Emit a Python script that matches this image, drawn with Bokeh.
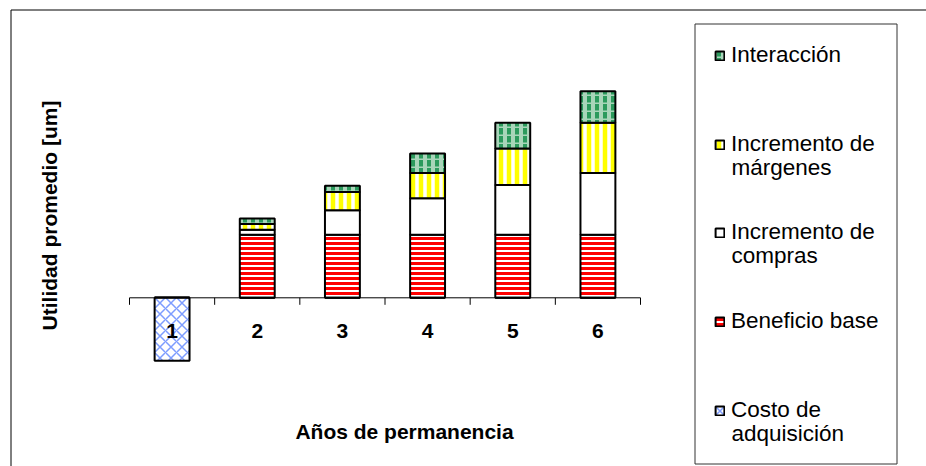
import math

from bokeh.plotting import figure
from bokeh.models import (ColumnDataSource, Range1d, Legend, LegendItem, Label,
                          BoxAnnotation)
from bokeh.embed import file_html
from bokeh.resources import INLINE

# Años de permanencia del cliente y la utilidad promedio de cada componente [um]
years = ["1", "2", "3", "4", "5", "6"]
costo_adquisicion = [-100, 0, 0, 0, 0, 0]
beneficio_base = [0, 100, 100, 100, 100, 100]
incremento_compras = [0, 8, 39, 58, 79, 98]
incremento_margenes = [0, 9, 29, 40, 58, 80]
interaccion = [0, 9, 10, 31, 41, 50]

FONT = "Liberation Sans"
W, H = 926, 466

# The drawing area fills the whole canvas; the category axis spans
# canvas x = 129..640 and crosses the value axis at canvas y = 297.3.
AX_LEFT, AX_RIGHT, AX_Y = 129.0, 640.0, 297.3
PX_PER_UNIT = 0.63                      # vertical scale, pixels per um

xs = list(range(1, len(years) + 1))
x_lo, x_hi = xs[0] - 0.5, xs[-1] + 0.5
px_per_cat = (AX_RIGHT - AX_LEFT) / (x_hi - x_lo)
x_range = Range1d(x_lo - AX_LEFT / px_per_cat, x_hi + (W - AX_RIGHT) / px_per_cat)
y_range = Range1d(-(H - AX_Y) / PX_PER_UNIT, AX_Y / PX_PER_UNIT)

src = ColumnDataSource(dict(
    x=xs,
    costo=costo_adquisicion,
    base=beneficio_base,
    compras=incremento_compras,
    margenes=incremento_margenes,
    inter=interaccion,
))

p = figure(width=W, height=H, output_backend="svg", toolbar_location=None,
           x_range=x_range, y_range=y_range,
           x_axis_location=None, y_axis_location=None,
           min_border=0)
p.outline_line_color = None
p.grid.visible = False
p.background_fill_color = "white"
p.border_fill_color = "white"

BAR_W = 0.41
common = dict(line_color="black", line_width=2)

stack = p.vbar_stack(
    ["base", "compras", "margenes", "inter"], x="x", width=BAR_W, source=src,
    fill_color=["white", "white", "white", "#a8d5b9"],
    hatch_pattern=["horizontal_line", "blank", "vertical_line", "vertical_dash"],
    hatch_color=["#ff0000", "white", "#ffff00", "#2b9a5c"],
    hatch_scale=[5, 8, 8, 8],
    hatch_weight=[3, 1, 4.5, 4],
    **common)
r_base, r_compras, r_margenes, r_inter = stack

r_costo = p.vbar(x="x", top="costo", bottom=0, width=BAR_W, source=src,
                 fill_color="white", hatch_pattern="diagonal_cross",
                 hatch_color="#7d9cff", hatch_scale=11, hatch_weight=1.5,
                 **common)

# category axis crossing at zero: rule, tick marks between categories, labels
TICK_PX = 7
bounds = [x - 0.5 for x in xs] + [x_hi]
p.segment(x0=[x_lo], y0=[0], x1=[x_hi], y1=[0], line_color="black", line_width=1)
p.segment(x0=bounds, y0=[0] * len(bounds), x1=bounds,
          y1=[-TICK_PX / PX_PER_UNIT] * len(bounds),
          line_color="black", line_width=1)
p.text(x=xs, y=[0] * len(xs), text=years, y_offset=33,
       text_align="center", text_baseline="middle",
       text_font={"value": FONT}, text_font_style="bold",
       text_font_size="21px", text_color="black")


def sx(v):
    return v


def sy(v):
    return H - v


# axis titles
p.add_layout(Label(x=sx(49), y=sy(215), x_units="screen", y_units="screen",
                   text="Utilidad promedio [um]", angle=math.pi / 2,
                   text_align="center", text_baseline="middle",
                   text_font=FONT, text_font_style="bold", text_font_size="21px",
                   text_color="black"))
p.add_layout(Label(x=sx(404), y=sy(431), x_units="screen", y_units="screen",
                   text="Años de permanencia",
                   text_align="center", text_baseline="middle",
                   text_font=FONT, text_font_style="bold", text_font_size="21px",
                   text_color="black"))

# chart-area frame and legend box
box_style = dict(left_units="screen", right_units="screen",
                 top_units="screen", bottom_units="screen",
                 fill_alpha=0, line_alpha=1, line_width=1)
p.add_layout(BoxAnnotation(left=sx(10.5), right=sx(1500), top=sy(9.5), bottom=sy(900),
                           line_color="black", **box_style))
p.add_layout(BoxAnnotation(left=sx(694.5), right=sx(896.5), top=sy(23.5), bottom=sy(463.5),
                           line_color="#333333", **box_style))

# legend entries: (renderer, first line, second line, centre of first line)
entries = [
    (r_inter, "Interacción", None, 55),
    (r_margenes, "Incremento de", "márgenes", 144),
    (r_compras, "Incremento de", "compras", 232),
    (r_base, "Beneficio base", None, 321),
    (r_costo, "Costo de", "adquisición", 410),
]
ITEM_H = 26
LINE_STEP = 23
LEG_FONT = "22.5px"
for rend, line1, line2, cy in entries:
    leg = Legend(items=[LegendItem(label=line1, renderers=[rend])],
                 location=(sx(714), sy(cy + ITEM_H / 2)),
                 border_line_color=None, background_fill_alpha=0,
                 padding=0, margin=0, spacing=0,
                 glyph_width=11, glyph_height=11, label_standoff=6,
                 label_height=ITEM_H,
                 label_text_font=FONT, label_text_font_size=LEG_FONT,
                 label_text_color="black")
    p.add_layout(leg)
    if line2:
        p.add_layout(Label(x=sx(731), y=sy(cy + LINE_STEP), x_units="screen", y_units="screen",
                           text=line2, text_align="left", text_baseline="middle",
                           text_font=FONT, text_font_size=LEG_FONT, text_color="black"))

open("out.html", "w").write(file_html(p, INLINE))
